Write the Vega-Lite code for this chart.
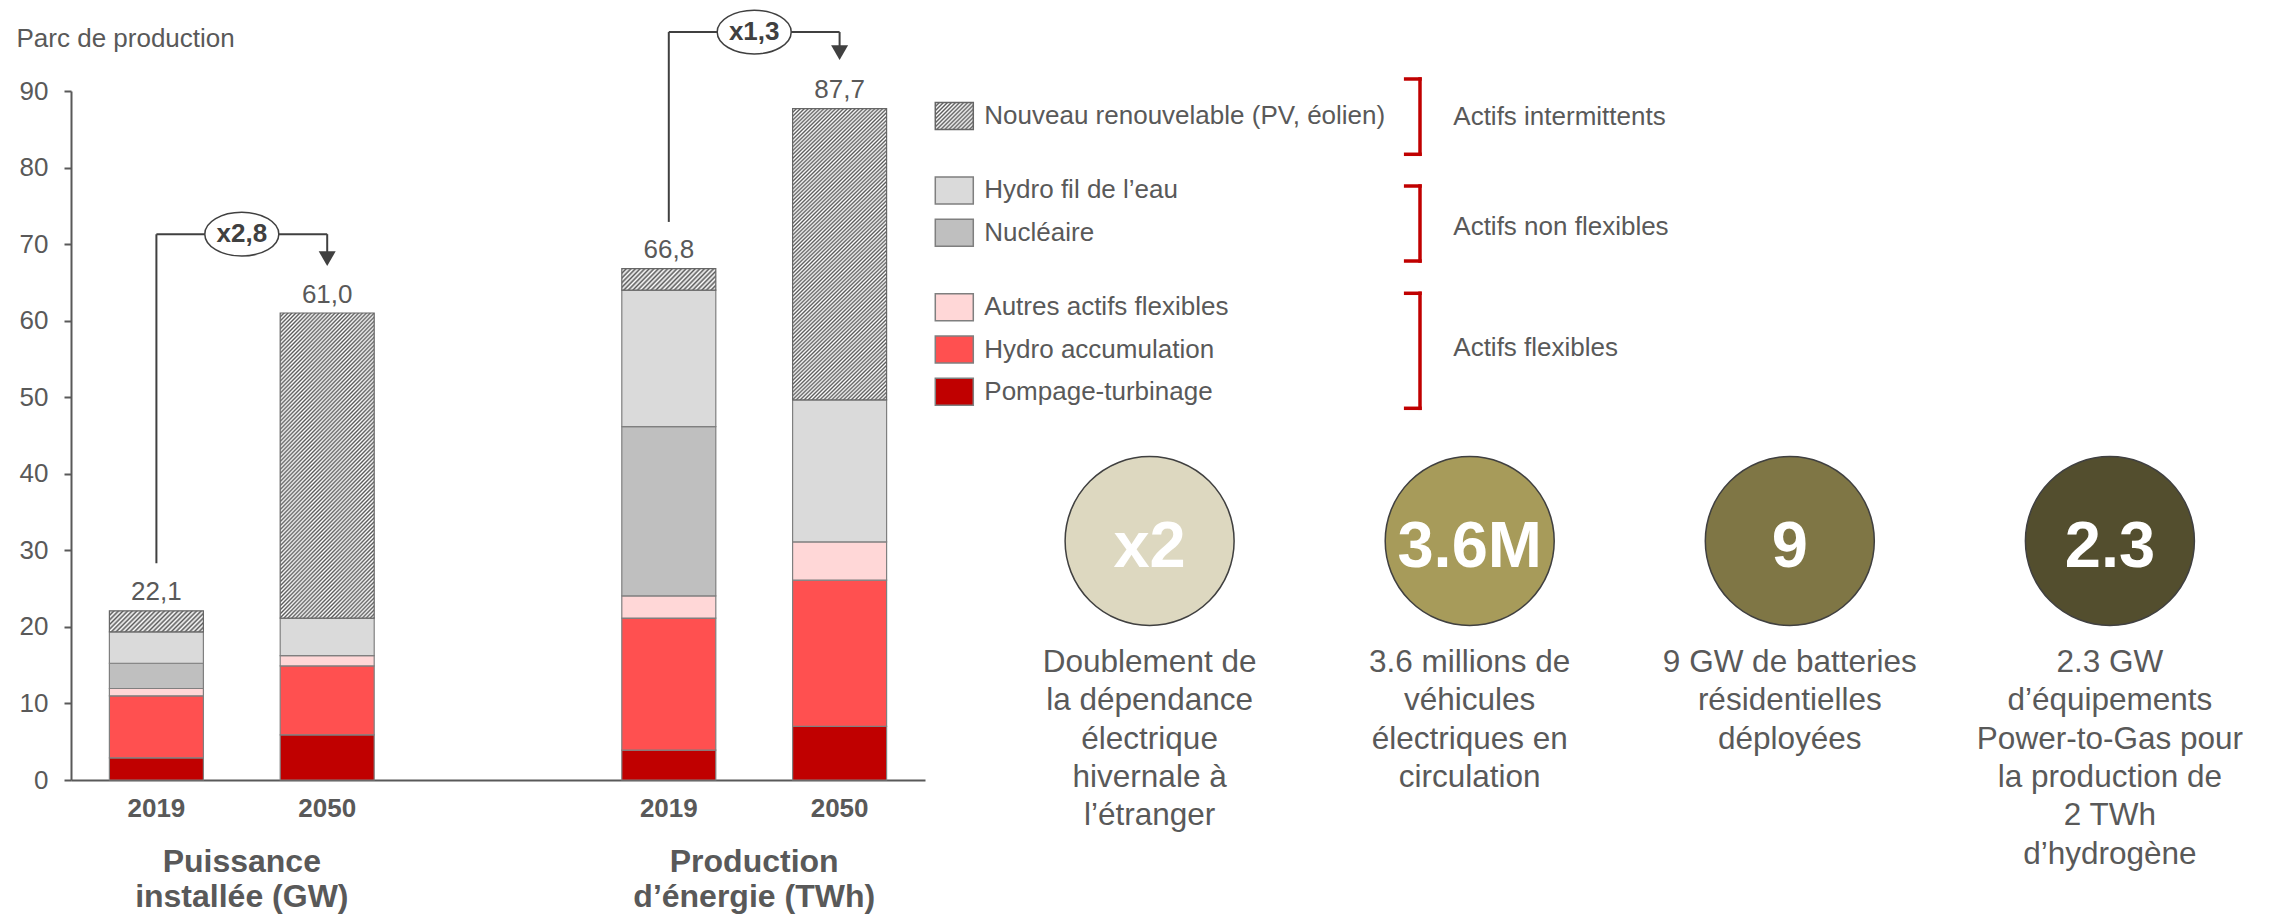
{
"$schema": "https://vega.github.io/schema/vega-lite/v6.json",
"autosize": {"type": "none"},
"padding": {"left": 71, "top": 91, "right": 2209, "bottom": 828},
"background": "white",
"spacing": 0,
"bounds": "flush",
"config": {
  "font": "Liberation Sans",
  "view": {"stroke": null},
  "locale": {"number": {"decimal": ",", "thousands": " ", "grouping": [3], "currency": ["", " €"]}}
},
"datasets": {
  "parc": [
    {"cat": "GW2019", "filiere": "Pompage-turbinage", "ordre": 1, "valeur": 2.9},
    {"cat": "GW2019", "filiere": "Hydro accumulation", "ordre": 2, "valeur": 8.1},
    {"cat": "GW2019", "filiere": "Autres actifs flexibles", "ordre": 3, "valeur": 0.95},
    {"cat": "GW2019", "filiere": "Nucléaire", "ordre": 4, "valeur": 3.3},
    {"cat": "GW2019", "filiere": "Hydro fil de l’eau", "ordre": 5, "valeur": 4.1},
    {"cat": "GW2019", "filiere": "Nouveau renouvelable (PV, éolien)", "ordre": 6, "valeur": 2.75},
    {"cat": "GW2050", "filiere": "Pompage-turbinage", "ordre": 1, "valeur": 5.9},
    {"cat": "GW2050", "filiere": "Hydro accumulation", "ordre": 2, "valeur": 9.0},
    {"cat": "GW2050", "filiere": "Autres actifs flexibles", "ordre": 3, "valeur": 1.35},
    {"cat": "GW2050", "filiere": "Hydro fil de l’eau", "ordre": 5, "valeur": 4.9},
    {"cat": "GW2050", "filiere": "Nouveau renouvelable (PV, éolien)", "ordre": 6, "valeur": 39.85},
    {"cat": "TWh2019", "filiere": "Pompage-turbinage", "ordre": 1, "valeur": 3.9},
    {"cat": "TWh2019", "filiere": "Hydro accumulation", "ordre": 2, "valeur": 17.25},
    {"cat": "TWh2019", "filiere": "Autres actifs flexibles", "ordre": 3, "valeur": 2.9},
    {"cat": "TWh2019", "filiere": "Nucléaire", "ordre": 4, "valeur": 22.1},
    {"cat": "TWh2019", "filiere": "Hydro fil de l’eau", "ordre": 5, "valeur": 17.85},
    {"cat": "TWh2019", "filiere": "Nouveau renouvelable (PV, éolien)", "ordre": 6, "valeur": 2.8},
    {"cat": "TWh2050", "filiere": "Pompage-turbinage", "ordre": 1, "valeur": 7.0},
    {"cat": "TWh2050", "filiere": "Hydro accumulation", "ordre": 2, "valeur": 19.1},
    {"cat": "TWh2050", "filiere": "Autres actifs flexibles", "ordre": 3, "valeur": 5.0},
    {"cat": "TWh2050", "filiere": "Hydro fil de l’eau", "ordre": 5, "valeur": 18.55},
    {"cat": "TWh2050", "filiere": "Nouveau renouvelable (PV, éolien)", "ordre": 6, "valeur": 38.05}
  ],
  "fleches": [
    {"de": "GW2019", "a": "GW2050", "label": "x2,8", "bas": 28.3, "niveau": 71.3, "tete": 68.1},
    {"de": "TWh2019", "a": "TWh2050", "label": "x1,3", "bas": 72.9, "niveau": 97.7, "tete": 95.0}
  ],
  "groupes": [
    {"cat": "GW2019", "texte": ["Puissance", "installée (GW)"]},
    {"cat": "TWh2019", "texte": ["Production", "d’énergie (TWh)"]}
  ],
  "legende": [
    {"filiere": "Nouveau renouvelable (PV, éolien)", "ligne": 0},
    {"filiere": "Hydro fil de l’eau", "ligne": 1.76},
    {"filiere": "Nucléaire", "ligne": 2.76},
    {"filiere": "Autres actifs flexibles", "ligne": 4.52},
    {"filiere": "Hydro accumulation", "ligne": 5.52},
    {"filiere": "Pompage-turbinage", "ligne": 6.52}
  ],
  "familles": [
    {"famille": "Actifs intermittents", "debut": -0.875, "fin": 0.905, "milieu": 0.017},
    {"famille": "Actifs non flexibles", "debut": 1.655, "fin": 3.428, "milieu": 2.617},
    {"famille": "Actifs flexibles", "debut": 4.191, "fin": 6.91, "milieu": 5.492}
  ],
  "chiffres": [
    {"rang": 1, "chiffre": "x2", "texte": ["Doublement de", "la dépendance", "électrique", "hivernale à", "l’étranger"]},
    {"rang": 2, "chiffre": "3.6M", "texte": ["3.6 millions de", "véhicules", "électriques en", "circulation"]},
    {"rang": 3, "chiffre": "9", "texte": ["9 GW de batteries", "résidentielles", "déployées"]},
    {"rang": 4, "chiffre": "2.3", "texte": ["2.3 GW", "d’équipements", "Power-to-Gas pour", "la production de", "2 TWh", "d’hydrogène"]}
  ]
},
"hconcat": [
  {
    "width": 854,
    "height": 689,
    "layer": [
      {
        "data": {"name": "parc"},
        "transform": [
          {"stack": "valeur", "groupby": ["cat"], "sort": [{"field": "ordre", "order": "ascending"}], "as": ["v0", "v1"]},
          {"filter": "datum.ordre < 6"}
        ],
        "mark": {"type": "bar", "stroke": "#7f7f7f", "strokeWidth": 1.2},
        "encoding": {
          "x": {"field": "cat", "type": "nominal", "sort": null,
            "scale": {"domain": ["GW2019", "GW2050", "vide", "TWh2019", "TWh2050"], "paddingInner": 0.4496, "paddingOuter": 0.2248},
            "axis": {"title": null, "labelExpr": "datum.value === 'vide' ? '' : slice(datum.value, -4)", "labelAngle": 0, "labelFontSize": 26, "labelFontWeight": "bold", "labelColor": "#595959", "labelPadding": 15, "ticks": false, "domainColor": "#595959", "domainWidth": 2}},
          "y": {"field": "v0", "type": "quantitative",
            "scale": {"domain": [0, 90], "nice": false, "zero": false},
            "axis": {"values": [0, 10, 20, 30, 40, 50, 60, 70, 80, 90], "title": "Parc de production", "titleAngle": 0, "titleAlign": "left", "titleBaseline": "alphabetic", "titleX": -55, "titleY": -44.3, "titleFontSize": 26, "titleFontWeight": "normal", "titleColor": "#595959", "labelFontSize": 26, "labelColor": "#595959", "labelPadding": 16, "tickSize": 7, "tickWidth": 2, "tickColor": "#595959", "domainColor": "#595959", "domainWidth": 2, "grid": false}},
          "y2": {"field": "v1"},
          "color": {"field": "filiere", "type": "nominal",
            "scale": {"domain": ["Pompage-turbinage", "Hydro accumulation", "Autres actifs flexibles", "Nucléaire", "Hydro fil de l’eau", "Nouveau renouvelable (PV, éolien)"], "range": ["#C00000", "#FF5050", "#FFD7D7", "#BFBFBF", "#DADADA", "#FFFFFF"]},
            "legend": null}
        }
      },
      {
        "data": {"name": "parc"},
        "transform": [
          {"stack": "valeur", "groupby": ["cat"], "sort": [{"field": "ordre", "order": "ascending"}], "as": ["v0", "v1"]},
          {"filter": "datum.ordre === 6 && slice(datum.cat, -4) === '2050'"}
        ],
        "mark": {"type": "bar", "stroke": "#666666", "strokeWidth": 1.2,
          "fill": {"gradient": "linear", "x1": 0, "y1": 0, "x2": 0.377, "y2": 1.196, "stops": [
{"offset":0,"color":"#5a5a5a"},{"offset":0.005,"color":"#fff"},{"offset":0.01,"color":"#5a5a5a"},{"offset":0.015,"color":"#fff"},{"offset":0.02,"color":"#5a5a5a"},{"offset":0.025,"color":"#fff"},{"offset":0.03,"color":"#5a5a5a"},{"offset":0.035,"color":"#fff"},{"offset":0.04,"color":"#5a5a5a"},{"offset":0.045,"color":"#fff"},
{"offset":0.05,"color":"#5a5a5a"},{"offset":0.055,"color":"#fff"},{"offset":0.06,"color":"#5a5a5a"},{"offset":0.065,"color":"#fff"},{"offset":0.07,"color":"#5a5a5a"},{"offset":0.075,"color":"#fff"},{"offset":0.08,"color":"#5a5a5a"},{"offset":0.085,"color":"#fff"},{"offset":0.09,"color":"#5a5a5a"},{"offset":0.095,"color":"#fff"},
{"offset":0.1,"color":"#5a5a5a"},{"offset":0.105,"color":"#fff"},{"offset":0.11,"color":"#5a5a5a"},{"offset":0.115,"color":"#fff"},{"offset":0.12,"color":"#5a5a5a"},{"offset":0.125,"color":"#fff"},{"offset":0.13,"color":"#5a5a5a"},{"offset":0.135,"color":"#fff"},{"offset":0.14,"color":"#5a5a5a"},{"offset":0.145,"color":"#fff"},
{"offset":0.15,"color":"#5a5a5a"},{"offset":0.155,"color":"#fff"},{"offset":0.16,"color":"#5a5a5a"},{"offset":0.165,"color":"#fff"},{"offset":0.17,"color":"#5a5a5a"},{"offset":0.175,"color":"#fff"},{"offset":0.18,"color":"#5a5a5a"},{"offset":0.185,"color":"#fff"},{"offset":0.19,"color":"#5a5a5a"},{"offset":0.195,"color":"#fff"},
{"offset":0.2,"color":"#5a5a5a"},{"offset":0.205,"color":"#fff"},{"offset":0.21,"color":"#5a5a5a"},{"offset":0.215,"color":"#fff"},{"offset":0.22,"color":"#5a5a5a"},{"offset":0.225,"color":"#fff"},{"offset":0.23,"color":"#5a5a5a"},{"offset":0.235,"color":"#fff"},{"offset":0.24,"color":"#5a5a5a"},{"offset":0.245,"color":"#fff"},
{"offset":0.25,"color":"#5a5a5a"},{"offset":0.255,"color":"#fff"},{"offset":0.26,"color":"#5a5a5a"},{"offset":0.265,"color":"#fff"},{"offset":0.27,"color":"#5a5a5a"},{"offset":0.275,"color":"#fff"},{"offset":0.28,"color":"#5a5a5a"},{"offset":0.285,"color":"#fff"},{"offset":0.29,"color":"#5a5a5a"},{"offset":0.295,"color":"#fff"},
{"offset":0.3,"color":"#5a5a5a"},{"offset":0.305,"color":"#fff"},{"offset":0.31,"color":"#5a5a5a"},{"offset":0.315,"color":"#fff"},{"offset":0.32,"color":"#5a5a5a"},{"offset":0.325,"color":"#fff"},{"offset":0.33,"color":"#5a5a5a"},{"offset":0.335,"color":"#fff"},{"offset":0.34,"color":"#5a5a5a"},{"offset":0.345,"color":"#fff"},
{"offset":0.35,"color":"#5a5a5a"},{"offset":0.355,"color":"#fff"},{"offset":0.36,"color":"#5a5a5a"},{"offset":0.365,"color":"#fff"},{"offset":0.37,"color":"#5a5a5a"},{"offset":0.375,"color":"#fff"},{"offset":0.38,"color":"#5a5a5a"},{"offset":0.385,"color":"#fff"},{"offset":0.39,"color":"#5a5a5a"},{"offset":0.395,"color":"#fff"},
{"offset":0.4,"color":"#5a5a5a"},{"offset":0.405,"color":"#fff"},{"offset":0.41,"color":"#5a5a5a"},{"offset":0.415,"color":"#fff"},{"offset":0.42,"color":"#5a5a5a"},{"offset":0.425,"color":"#fff"},{"offset":0.43,"color":"#5a5a5a"},{"offset":0.435,"color":"#fff"},{"offset":0.44,"color":"#5a5a5a"},{"offset":0.445,"color":"#fff"},
{"offset":0.45,"color":"#5a5a5a"},{"offset":0.455,"color":"#fff"},{"offset":0.46,"color":"#5a5a5a"},{"offset":0.465,"color":"#fff"},{"offset":0.47,"color":"#5a5a5a"},{"offset":0.475,"color":"#fff"},{"offset":0.48,"color":"#5a5a5a"},{"offset":0.485,"color":"#fff"},{"offset":0.49,"color":"#5a5a5a"},{"offset":0.495,"color":"#fff"},
{"offset":0.5,"color":"#5a5a5a"},{"offset":0.505,"color":"#fff"},{"offset":0.51,"color":"#5a5a5a"},{"offset":0.515,"color":"#fff"},{"offset":0.52,"color":"#5a5a5a"},{"offset":0.525,"color":"#fff"},{"offset":0.53,"color":"#5a5a5a"},{"offset":0.535,"color":"#fff"},{"offset":0.54,"color":"#5a5a5a"},{"offset":0.545,"color":"#fff"},
{"offset":0.55,"color":"#5a5a5a"},{"offset":0.555,"color":"#fff"},{"offset":0.56,"color":"#5a5a5a"},{"offset":0.565,"color":"#fff"},{"offset":0.57,"color":"#5a5a5a"},{"offset":0.575,"color":"#fff"},{"offset":0.58,"color":"#5a5a5a"},{"offset":0.585,"color":"#fff"},{"offset":0.59,"color":"#5a5a5a"},{"offset":0.595,"color":"#fff"},
{"offset":0.6,"color":"#5a5a5a"},{"offset":0.605,"color":"#fff"},{"offset":0.61,"color":"#5a5a5a"},{"offset":0.615,"color":"#fff"},{"offset":0.62,"color":"#5a5a5a"},{"offset":0.625,"color":"#fff"},{"offset":0.63,"color":"#5a5a5a"},{"offset":0.635,"color":"#fff"},{"offset":0.64,"color":"#5a5a5a"},{"offset":0.645,"color":"#fff"},
{"offset":0.65,"color":"#5a5a5a"},{"offset":0.655,"color":"#fff"},{"offset":0.66,"color":"#5a5a5a"},{"offset":0.665,"color":"#fff"},{"offset":0.67,"color":"#5a5a5a"},{"offset":0.675,"color":"#fff"},{"offset":0.68,"color":"#5a5a5a"},{"offset":0.685,"color":"#fff"},{"offset":0.69,"color":"#5a5a5a"},{"offset":0.695,"color":"#fff"},
{"offset":0.7,"color":"#5a5a5a"},{"offset":0.705,"color":"#fff"},{"offset":0.71,"color":"#5a5a5a"},{"offset":0.715,"color":"#fff"},{"offset":0.72,"color":"#5a5a5a"},{"offset":0.725,"color":"#fff"},{"offset":0.73,"color":"#5a5a5a"},{"offset":0.735,"color":"#fff"},{"offset":0.74,"color":"#5a5a5a"},{"offset":0.745,"color":"#fff"},
{"offset":0.75,"color":"#5a5a5a"},{"offset":0.755,"color":"#fff"},{"offset":0.76,"color":"#5a5a5a"},{"offset":0.765,"color":"#fff"},{"offset":0.77,"color":"#5a5a5a"},{"offset":0.775,"color":"#fff"},{"offset":0.78,"color":"#5a5a5a"},{"offset":0.785,"color":"#fff"},{"offset":0.79,"color":"#5a5a5a"},{"offset":0.795,"color":"#fff"},
{"offset":0.8,"color":"#5a5a5a"},{"offset":0.805,"color":"#fff"},{"offset":0.81,"color":"#5a5a5a"},{"offset":0.815,"color":"#fff"},{"offset":0.82,"color":"#5a5a5a"},{"offset":0.825,"color":"#fff"},{"offset":0.83,"color":"#5a5a5a"},{"offset":0.835,"color":"#fff"},{"offset":0.84,"color":"#5a5a5a"},{"offset":0.845,"color":"#fff"},
{"offset":0.85,"color":"#5a5a5a"},{"offset":0.855,"color":"#fff"},{"offset":0.86,"color":"#5a5a5a"},{"offset":0.865,"color":"#fff"},{"offset":0.87,"color":"#5a5a5a"},{"offset":0.875,"color":"#fff"},{"offset":0.88,"color":"#5a5a5a"},{"offset":0.885,"color":"#fff"},{"offset":0.89,"color":"#5a5a5a"},{"offset":0.895,"color":"#fff"},
{"offset":0.9,"color":"#5a5a5a"},{"offset":0.905,"color":"#fff"},{"offset":0.91,"color":"#5a5a5a"},{"offset":0.915,"color":"#fff"},{"offset":0.92,"color":"#5a5a5a"},{"offset":0.925,"color":"#fff"},{"offset":0.93,"color":"#5a5a5a"},{"offset":0.935,"color":"#fff"},{"offset":0.94,"color":"#5a5a5a"},{"offset":0.945,"color":"#fff"},
{"offset":0.95,"color":"#5a5a5a"},{"offset":0.955,"color":"#fff"},{"offset":0.96,"color":"#5a5a5a"},{"offset":0.965,"color":"#fff"},{"offset":0.97,"color":"#5a5a5a"},{"offset":0.975,"color":"#fff"},{"offset":0.98,"color":"#5a5a5a"},{"offset":0.985,"color":"#fff"},{"offset":0.99,"color":"#5a5a5a"},{"offset":0.995,"color":"#fff"},
{"offset":1,"color":"#5a5a5a"}]}},
        "encoding": {
          "x": {"field": "cat", "type": "nominal"},
          "y": {"field": "v0", "type": "quantitative"},
          "y2": {"field": "v1"}
        }
      },
      {
        "data": {"name": "parc"},
        "transform": [
          {"stack": "valeur", "groupby": ["cat"], "sort": [{"field": "ordre", "order": "ascending"}], "as": ["v0", "v1"]},
          {"filter": "datum.ordre === 6 && slice(datum.cat, -4) === '2019'"}
        ],
        "mark": {"type": "bar", "stroke": "#666666", "strokeWidth": 1.2,
          "fill": {"gradient": "linear", "x1": 0, "y1": 0, "x2": 1.165, "y2": 0.26, "stops": [
{"offset":0,"color":"#5a5a5a"},{"offset":0.02,"color":"#fff"},{"offset":0.04,"color":"#5a5a5a"},{"offset":0.06,"color":"#fff"},{"offset":0.08,"color":"#5a5a5a"},{"offset":0.1,"color":"#fff"},{"offset":0.12,"color":"#5a5a5a"},{"offset":0.14,"color":"#fff"},{"offset":0.16,"color":"#5a5a5a"},{"offset":0.18,"color":"#fff"},
{"offset":0.2,"color":"#5a5a5a"},{"offset":0.22,"color":"#fff"},{"offset":0.24,"color":"#5a5a5a"},{"offset":0.26,"color":"#fff"},{"offset":0.28,"color":"#5a5a5a"},{"offset":0.3,"color":"#fff"},{"offset":0.32,"color":"#5a5a5a"},{"offset":0.34,"color":"#fff"},{"offset":0.36,"color":"#5a5a5a"},{"offset":0.38,"color":"#fff"},
{"offset":0.4,"color":"#5a5a5a"},{"offset":0.42,"color":"#fff"},{"offset":0.44,"color":"#5a5a5a"},{"offset":0.46,"color":"#fff"},{"offset":0.48,"color":"#5a5a5a"},{"offset":0.5,"color":"#fff"},{"offset":0.52,"color":"#5a5a5a"},{"offset":0.54,"color":"#fff"},{"offset":0.56,"color":"#5a5a5a"},{"offset":0.58,"color":"#fff"},
{"offset":0.6,"color":"#5a5a5a"},{"offset":0.62,"color":"#fff"},{"offset":0.64,"color":"#5a5a5a"},{"offset":0.66,"color":"#fff"},{"offset":0.68,"color":"#5a5a5a"},{"offset":0.7,"color":"#fff"},{"offset":0.72,"color":"#5a5a5a"},{"offset":0.74,"color":"#fff"},{"offset":0.76,"color":"#5a5a5a"},{"offset":0.78,"color":"#fff"},
{"offset":0.8,"color":"#5a5a5a"},{"offset":0.82,"color":"#fff"},{"offset":0.84,"color":"#5a5a5a"},{"offset":0.86,"color":"#fff"},{"offset":0.88,"color":"#5a5a5a"},{"offset":0.9,"color":"#fff"},{"offset":0.92,"color":"#5a5a5a"},{"offset":0.94,"color":"#fff"},{"offset":0.96,"color":"#5a5a5a"},{"offset":0.98,"color":"#fff"},
{"offset":1,"color":"#5a5a5a"}]}},
        "encoding": {
          "x": {"field": "cat", "type": "nominal"},
          "y": {"field": "v0", "type": "quantitative"},
          "y2": {"field": "v1"}
        }
      },
      {
        "data": {"name": "parc"},
        "transform": [{"aggregate": [{"op": "sum", "field": "valeur", "as": "total"}], "groupby": ["cat"]}],
        "mark": {"type": "text", "fontSize": 26, "color": "#595959", "baseline": "alphabetic", "dy": -10.5},
        "encoding": {
          "x": {"field": "cat", "type": "nominal"},
          "y": {"field": "total", "type": "quantitative"},
          "text": {"field": "total", "type": "quantitative", "format": ".1f"}
        }
      },
      {
        "data": {"name": "fleches"},
        "mark": {"type": "rule", "color": "#404040", "strokeWidth": 2},
        "encoding": {
          "x": {"field": "de", "type": "nominal"},
          "y": {"field": "bas", "type": "quantitative"},
          "y2": {"field": "niveau"}
        }
      },
      {
        "data": {"name": "fleches"},
        "mark": {"type": "rule", "color": "#404040", "strokeWidth": 2},
        "encoding": {
          "x": {"field": "de", "type": "nominal"},
          "x2": {"field": "a"},
          "y": {"field": "niveau", "type": "quantitative"}
        }
      },
      {
        "data": {"name": "fleches"},
        "mark": {"type": "rule", "color": "#404040", "strokeWidth": 2},
        "encoding": {
          "x": {"field": "a", "type": "nominal"},
          "y": {"field": "niveau", "type": "quantitative"},
          "y2": {"field": "tete"}
        }
      },
      {
        "data": {"name": "fleches"},
        "mark": {"type": "point", "shape": "triangle-down", "size": 289, "filled": true, "color": "#404040", "opacity": 1},
        "encoding": {
          "x": {"field": "a", "type": "nominal"},
          "y": {"field": "tete", "type": "quantitative"}
        }
      },
      {
        "data": {"name": "fleches"},
        "mark": {"type": "point", "shape": "M-1,0A1,0.59,0,1,1,1,0A1,0.59,0,1,1,-1,0Z", "size": 5476, "filled": true, "fill": "#ffffff", "stroke": "#404040", "strokeWidth": 1.5, "opacity": 1},
        "encoding": {
          "x": {"field": "de", "type": "nominal", "bandPosition": 1.4085},
          "y": {"field": "niveau", "type": "quantitative"}
        }
      },
      {
        "data": {"name": "fleches"},
        "mark": {"type": "text", "fontSize": 26, "fontWeight": "bold", "color": "#404040", "baseline": "middle"},
        "encoding": {
          "x": {"field": "de", "type": "nominal", "bandPosition": 1.4085},
          "y": {"field": "niveau", "type": "quantitative"},
          "text": {"field": "label"}
        }
      },
      {
        "data": {"name": "groupes"},
        "mark": {"type": "text", "fontSize": 32, "fontWeight": "bold", "color": "#595959", "baseline": "alphabetic", "lineHeight": 35},
        "encoding": {
          "x": {"field": "cat", "type": "nominal", "bandPosition": 1.4085},
          "y": {"datum": -11.98},
          "text": {"field": "texte"}
        }
      }
    ]
  },
  {
    "width": 1355,
    "height": 689,
    "layer": [
      {
        "data": {"name": "legende"},
        "transform": [{"filter": "datum.ligne > 0"}],
        "mark": {"type": "point", "shape": "M-1,-0.71H1V0.71H-1Z", "size": 1444, "filled": true, "stroke": "#7f7f7f", "strokeWidth": 1.5, "opacity": 1},
        "encoding": {
          "x": {"datum": 0.3898, "type": "quantitative", "scale": {"domain": [0.2983, 4.5314], "nice": false, "zero": false}, "axis": null},
          "y": {"field": "ligne", "type": "quantitative", "scale": {"domain": [-0.591, 15.697], "reverse": true, "nice": false, "zero": false}, "axis": null},
          "color": {"field": "filiere", "type": "nominal",
            "scale": {"domain": ["Pompage-turbinage", "Hydro accumulation", "Autres actifs flexibles", "Nucléaire", "Hydro fil de l’eau", "Nouveau renouvelable (PV, éolien)"], "range": ["#C00000", "#FF5050", "#FFD7D7", "#BFBFBF", "#DADADA", "#FFFFFF"]},
            "legend": null}
        }
      },
      {
        "data": {"name": "legende"},
        "transform": [{"filter": "datum.ligne === 0"}],
        "mark": {"type": "point", "shape": "M-1,-0.71H1V0.71H-1Z", "size": 1444, "filled": true, "stroke": "#666666", "strokeWidth": 1.5, "opacity": 1,
          "fill": {"gradient": "linear", "x1": 0, "y1": 0, "x2": 1.137, "y2": 0.808, "stops": [
{"offset":0,"color":"#5a5a5a"},{"offset":0.03125,"color":"#fff"},{"offset":0.0625,"color":"#5a5a5a"},{"offset":0.09375,"color":"#fff"},{"offset":0.125,"color":"#5a5a5a"},{"offset":0.15625,"color":"#fff"},{"offset":0.1875,"color":"#5a5a5a"},{"offset":0.21875,"color":"#fff"},
{"offset":0.25,"color":"#5a5a5a"},{"offset":0.28125,"color":"#fff"},{"offset":0.3125,"color":"#5a5a5a"},{"offset":0.34375,"color":"#fff"},{"offset":0.375,"color":"#5a5a5a"},{"offset":0.40625,"color":"#fff"},{"offset":0.4375,"color":"#5a5a5a"},{"offset":0.46875,"color":"#fff"},
{"offset":0.5,"color":"#5a5a5a"},{"offset":0.53125,"color":"#fff"},{"offset":0.5625,"color":"#5a5a5a"},{"offset":0.59375,"color":"#fff"},{"offset":0.625,"color":"#5a5a5a"},{"offset":0.65625,"color":"#fff"},{"offset":0.6875,"color":"#5a5a5a"},{"offset":0.71875,"color":"#fff"},
{"offset":0.75,"color":"#5a5a5a"},{"offset":0.78125,"color":"#fff"},{"offset":0.8125,"color":"#5a5a5a"},{"offset":0.84375,"color":"#fff"},{"offset":0.875,"color":"#5a5a5a"},{"offset":0.90625,"color":"#fff"},{"offset":0.9375,"color":"#5a5a5a"},{"offset":0.96875,"color":"#fff"},
{"offset":1,"color":"#5a5a5a"}]}},
        "encoding": {
          "x": {"datum": 0.3898, "type": "quantitative"},
          "y": {"field": "ligne", "type": "quantitative"}
        }
      },
      {
        "data": {"name": "legende"},
        "mark": {"type": "text", "align": "left", "baseline": "middle", "fontSize": 26, "color": "#595959"},
        "encoding": {
          "x": {"datum": 0.4836, "type": "quantitative"},
          "y": {"field": "ligne", "type": "quantitative"},
          "text": {"field": "filiere"}
        }
      },
      {
        "data": {"name": "familles"},
        "mark": {"type": "rule", "color": "#C00000", "strokeWidth": 3.5, "strokeCap": "square"},
        "encoding": {
          "x": {"datum": 1.8447, "type": "quantitative"},
          "y": {"field": "debut", "type": "quantitative"},
          "y2": {"field": "fin"}
        }
      },
      {
        "data": {"name": "familles"},
        "mark": {"type": "rule", "color": "#C00000", "strokeWidth": 3.5, "strokeCap": "square"},
        "encoding": {
          "x": {"datum": 1.7999, "type": "quantitative"},
          "x2": {"datum": 1.8447},
          "y": {"field": "debut", "type": "quantitative"}
        }
      },
      {
        "data": {"name": "familles"},
        "mark": {"type": "rule", "color": "#C00000", "strokeWidth": 3.5, "strokeCap": "square"},
        "encoding": {
          "x": {"datum": 1.7999, "type": "quantitative"},
          "x2": {"datum": 1.8447},
          "y": {"field": "fin", "type": "quantitative"}
        }
      },
      {
        "data": {"name": "familles"},
        "mark": {"type": "text", "align": "left", "baseline": "middle", "fontSize": 26, "color": "#595959"},
        "encoding": {
          "x": {"datum": 1.9487, "type": "quantitative"},
          "y": {"field": "milieu", "type": "quantitative"},
          "text": {"field": "famille"}
        }
      },
      {
        "data": {"name": "chiffres"},
        "mark": {"type": "point", "shape": "circle", "size": 28561, "filled": true, "stroke": "#404040", "strokeWidth": 1.5, "opacity": 1},
        "encoding": {
          "x": {"field": "rang", "type": "quantitative"},
          "y": {"datum": 10.047, "type": "quantitative"},
          "fill": {"field": "chiffre", "type": "nominal", "scale": {"domain": ["x2", "3.6M", "9", "2.3"], "range": ["#DDD8C0", "#A79B5A", "#7F7645", "#534E2E"]}, "legend": null}
        }
      },
      {
        "data": {"name": "chiffres"},
        "mark": {"type": "text", "fontSize": 65, "fontWeight": "bold", "color": "#ffffff", "baseline": "middle"},
        "encoding": {
          "x": {"field": "rang", "type": "quantitative"},
          "y": {"datum": 10.19, "type": "quantitative"},
          "text": {"field": "chiffre"}
        }
      },
      {
        "data": {"name": "chiffres"},
        "mark": {"type": "text", "fontSize": 31.5, "color": "#595959", "baseline": "alphabetic", "lineHeight": 38.3},
        "encoding": {
          "x": {"field": "rang", "type": "quantitative"},
          "y": {"datum": 13.144, "type": "quantitative"},
          "text": {"field": "texte"}
        }
      }
    ]
  }
]
}
